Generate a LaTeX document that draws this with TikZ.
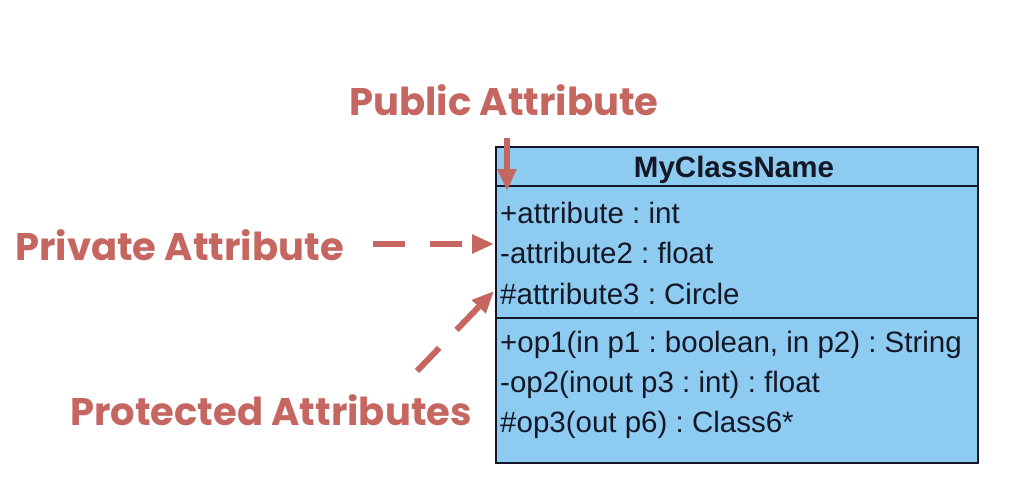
\documentclass[tikz,border=0pt]{standalone}
\usepackage{fontspec}
\setmainfont{Liberation Sans}
\newfontfamily\labelfont{Poppins}
\usetikzlibrary{arrows.meta}
\definecolor{lblred}{RGB}{198,102,96}
\definecolor{clsblue}{RGB}{142,203,240}
\definecolor{clstext}{RGB}{20,24,38}
\frenchspacing
\tikzset{
  lbl/.style={text=lblred, font=\labelfont\bfseries\fontsize{38.5}{44}\selectfont, inner sep=0pt},
  member/.style={anchor=west, text=clstext, font=\fontsize{29.5}{34}\selectfont, inner sep=0pt},
  pointer/.style={draw=lblred, line width=6pt, -{Triangle[length=22pt,width=18pt]}},
  dashptr/.style={pointer, dash pattern=on 32pt off 25pt},
}
\begin{document}
\begin{tikzpicture}[x=1pt,y=-1pt]
\useasboundingbox (0,0) rectangle (1018,482);
% class box
\node[draw=clstext, fill=clsblue, line width=2pt, minimum width=482pt, minimum height=316pt, anchor=north west, inner sep=0pt] (cls) at (495,146) {};
\coordinate (sep1l) at (495,186);
\coordinate (sep1r) at (977,186);
\coordinate (sep2l) at (495,318);
\coordinate (sep2r) at (977,318);
\draw[line width=2pt, draw=clstext] (sep1l) -- (sep1r);
\draw[line width=2pt, draw=clstext] (sep2l) -- (sep2r);
\node[text=clstext, font=\bfseries\fontsize{29.5}{34}\selectfont, inner sep=0pt, anchor=base] (name) at (734,177) {MyClassName};
\node[member] (a1) at (500,213) {+attribute : int};
\node[member] (a2) at (500,253) {-attribute2 : float};
\node[member] (a3) at (500,294) {\#attribute3 : Circle};
\node[member] (o1) at (500,345) {+op1(in p1 : boolean, in p2) : String};
\node[member] (o2) at (500,385) {-op2(inout p3 : int) : float};
\node[member] (o3) at (500,425) {\#op3(out p6) : Class6*};
% labels
\node[lbl] (pub) at (504,100) {Public Attribute};
\node[lbl, anchor=west] (priv) at (15,245) {Private Attribute};
\node[lbl, anchor=west] (prot) at (70,410) {Protected Attributes};
% pointers
\coordinate (pubs) at (507,138);
\coordinate (pubt) at (507,191);
\coordinate (privs) at (373,244);
\coordinate (privt) at (494,244);
\coordinate (prots) at (417,371);
\coordinate (prott) at (494,291);
\draw[pointer] (pubs) -- (pubt);
\draw[dashptr] (privs) -- (privt);
\draw[dashptr] (prots) -- (prott);
\end{tikzpicture}
\end{document}
